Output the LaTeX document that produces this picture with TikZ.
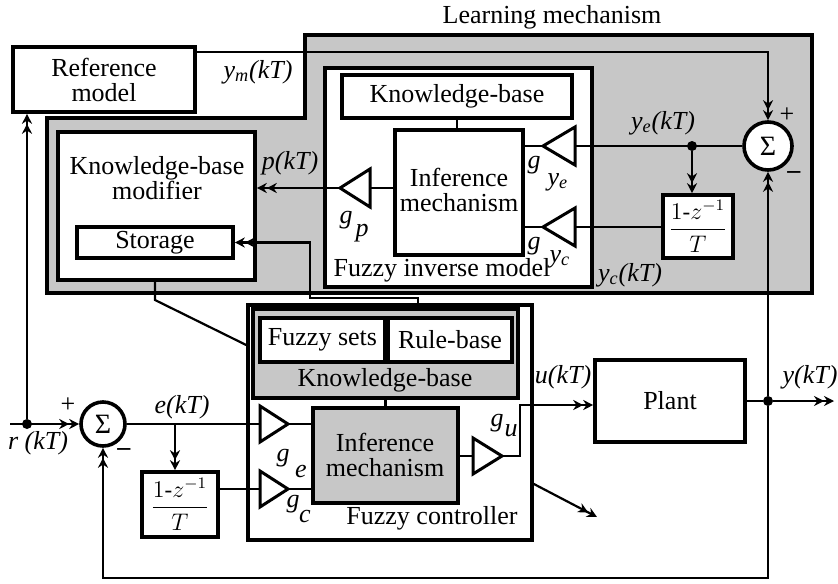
\documentclass[tikz,border=0pt]{standalone}
\usepackage{amsmath}
\usepackage{fontspec}
\setmainfont{Liberation Serif}
\usetikzlibrary{arrows.meta,fit,calc}
\begin{document}
\begin{tikzpicture}[x=0.5pt,y=-0.5pt,
  every node/.style={font=\fontsize{13}{12.5}\selectfont},
  blk/.style={draw, line width=1.8pt, fill=white, inner sep=0pt},
  shd/.style={fill=black!22},
  txt/.style={align=center, inner sep=0pt},
  frc/.style={inner sep=0pt, font=\fontsize{11.5}{12}\selectfont},
  ln/.style={line width=1.1pt},
  arr/.style={ln, -{Stealth[length=5pt,width=5pt]Stealth[length=5pt,width=5pt]}},
  tri/.style={draw, line width=1.5pt, fill=white, line join=miter},
  lbl/.style={font=\fontsize{13}{13}\selectfont\itshape, inner sep=1pt},
  dot/.style={circle, fill=black, inner sep=0pt, minimum size=5pt},
  sum/.style={circle, draw, line width=1.8pt, fill=white, inner sep=0pt, minimum size=24pt, font=\fontsize{14}{14}\selectfont}
]
\useasboundingbox (0,0) rectangle (838,583);

% Learning mechanism region
\draw[line width=1.8pt, shd] (305,35) -- (812,35) -- (812,293) -- (47,293) -- (47,118) -- (305,118) -- cycle;
\node (LMlab) at (552,17) {Learning mechanism};

% Reference model
\node[blk, fit={(13,47)(195,112)}] (RM) {};
\node[txt] (RMt) at (RM.center) {Reference\\model};

% Knowledge-base modifier
\node[blk, fit={(58,132)(255,280)}] (KBM) {};
\node[txt] (KBMt) at (157,178) {Knowledge-base\\modifier};
\node[blk, fit={(77,227)(233,258)}] (ST) {};
\node[txt] (STt) at (ST.center) {Storage};

% Fuzzy inverse model
\node[blk, fit={(325,68)(592,287)}] (FIM) {};
\node[txt] (FIMt) at (442,270) {Fuzzy inverse model};
\node[blk, fit={(342,75)(572,118)}] (KBI) {};
\node[txt] (KBIt) at (KBI.center) {Knowledge-base};
\node[blk, fit={(395,130)(523,255)}] (INI) {};
\node[txt] (INIt) at (459,190) {Inference\\mechanism};
\draw[ln] (KBI.south) -- (KBI.south |- INI.north);

% Sum (learning)
\node[sum] (S1) at (768,146) {Σ};
\node[blk, fit={(663,195)(733,258)}] (D1) {};
\node[frc] (D1t) at (D1.center) {$\dfrac{1\text{-}z^{-1}}{T}$};

% gain g_ye
\coordinate (yeA) at (543,146);
\coordinate (yeB) at (575,146);
\draw[tri] (575,127) -- (yeA) -- (575,165) -- cycle;
\draw[ln] (INI.east |- yeA) -- (yeA);
\draw[ln] (yeB) -- (S1.west);
\node[dot] (J1) at (692,146) {};
\draw[arr] (J1) -- (J1 |- D1.north);

% gain g_yc
\coordinate (ycA) at (543,227);
\coordinate (ycB) at (575,227);
\draw[tri] (575,208) -- (ycA) -- (575,246) -- cycle;
\draw[ln] (D1.west |- ycB) -- (ycB);
\draw[ln] (ycA) -- (INI.east |- ycA);

% gain g_p
\coordinate (gpA) at (340,188);
\coordinate (gpB) at (370,188);
\draw[tri] (370,169) -- (gpA) -- (370,207) -- cycle;
\draw[ln] (INI.west |- gpB) -- (gpB);
\draw[arr] (gpA) -- (KBM.east |- gpA);

% y_m line
\coordinate (ymC) at (768,52);
\draw[arr] (RM.north east |- ymC) -- (ymC) -- (S1.north);

% Fuzzy controller
\node[blk, fit={(248,305)(532,540)}] (FC) {};
\node[txt] (FCt) at (432,518) {Fuzzy controller};
\node[blk, shd, fit={(253,309)(518,398)}] (KBC) {};
\node[txt] (KBCt) at (385,380) {Knowledge-base};
\node[blk, fit={(260,318)(385,362)}] (FS) {};
\node[txt] (FSt) at (FS.center) {Fuzzy sets};
\node[blk, fit={(388,318)(512,362)}] (RB) {};
\node[txt] (RBt) at (RB.center) {Rule-base};
\node[blk, shd, fit={(313,408)(458,503)}] (INC) {};
\node[txt] (INCt) at (385,455) {Inference\\mechanism};
\draw[ln] (KBC.south) -- (KBC.south |- INC.north);

% Storage arrow
\coordinate (s1) at (310,298);
\coordinate (s2) at (418,298);
\draw[arr] (s2 |- KBC.north) -- (s2) -- (s1) -- (s1 |- ST.east) -- (ST.east);

% KB modifier to controller
\coordinate (k1) at (155,300);
\coordinate (k2y) at (0,345);
\draw[ln] (KBM.south -| k1) -- (k1) -- (FC.west |- k2y);

% Controller input side
\node[sum, minimum size=22pt] (S2) at (103,424) {Σ};
\node[dot] (rD) at (27,424) {};
\coordinate (rIn) at (10,424);
\draw[arr] (rIn) -- (S2.west);
\draw[arr] (rD) -- (rD |- RM.south);

\node[blk, fit={(142,472)(218,537)}] (D2) {};
\node[frc] (D2t) at (D2.center) {$\dfrac{1\text{-}z^{-1}}{T}$};

\coordinate (geB) at (260,424);
\coordinate (geA) at (288,424);
\draw[tri] (260,406) -- (geA) -- (260,442) -- cycle;
\draw[ln] (S2.east) -- (geB);
\draw[ln] (geA) -- (INC.west |- geA);
\coordinate (eJ) at (175,424);
\draw[arr] (eJ) -- (eJ |- D2.north);

\coordinate (gcB) at (260,489);
\coordinate (gcA) at (288,489);
\draw[tri] (260,471) -- (gcA) -- (260,507) -- cycle;
\draw[ln] (D2.east |- gcB) -- (gcB);
\draw[ln] (gcA) -- (INC.west |- gcA);

\coordinate (guB) at (473,456);
\coordinate (guA) at (502,456);
\draw[tri] (473,438) -- (guA) -- (473,474) -- cycle;
\draw[ln] (INC.east |- guB) -- (guB);

% Plant
\node[blk, fit={(595,360)(745,442)}] (PL) {};
\node[txt] (PLt) at (PL.center) {Plant};
\coordinate (u1) at (520,456);
\coordinate (u2) at (520,405);
\draw[arr] (guA) -- (u1) -- (u2) -- (PL.west |- u2);

\node[dot] (yD) at (768,401) {};
\coordinate (yOut) at (834,401);
\draw[ln] (PL.east) -- (yD);
\draw[arr] (yD) -- (yOut);
\draw[arr] (yD) -- (S1.south);
\coordinate (b1) at (768,578);
\coordinate (b2) at (103,578);
\draw[arr] (yD) -- (b1) -- (b2) -- (S2.south);

% adaptation arrow
\coordinate (d1) at (532,483);
\coordinate (d2) at (597,517);
\draw[arr] (d1) -- (d2);

% Labels
\node[lbl] (Lym) at (258,72) {y\textsubscript{m}(kT)};
\node[lbl] (Lp) at (290,163) {p(kT)};
\node[lbl] (Lye) at (663,123) {y\textsubscript{e}(kT)};
\node[lbl] (Lyc) at (630,275) {y\textsubscript{c}(kT)};
\node[lbl] (Lg1) at (534,165) {g};
\node[lbl] (Lg1s) at (558,182) {y\textsubscript{e}};
\node[lbl] (Lg2) at (534,246) {g};
\node[lbl] (Lg2s) at (560,259) {y\textsubscript{c}};
\node[lbl] (Lg3) at (346,220) {g};
\node[lbl] (Lg3s) at (362,233) {p};
\node[lbl] (Le) at (182,407) {e(kT)};
\node[lbl] (Lr) at (38,443) {r (kT)};
\node (Lp1) at (68,405) {+};
\node (Lm1) at (124,452) {\textbf{–}};
\node (Lp2) at (787,115) {+};
\node (Lm2) at (794,175) {\textbf{–}};
\node[lbl] (Lg4) at (283,458) {g};
\node[lbl] (Lg4s) at (301,471) {e};
\node[lbl] (Lg5) at (293,504) {g};
\node[lbl] (Lg5s) at (305,516) {c};
\node[lbl] (Lg6) at (497,423) {g};
\node[lbl] (Lg6s) at (511,431) {u};
\node[lbl] (Lu) at (563,377) {u(kT)};
\node[lbl] (Ly) at (810,377) {y(kT)};
\end{tikzpicture}
\end{document}
